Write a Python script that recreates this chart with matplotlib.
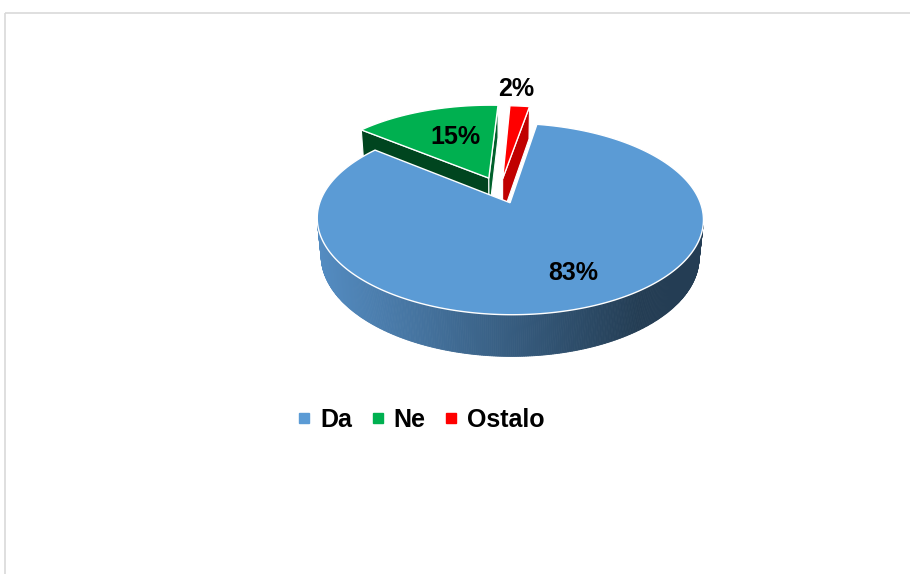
import numpy as np
import matplotlib
matplotlib.use('Agg')
import matplotlib.pyplot as plt
from matplotlib.patches import Polygon, Rectangle
from matplotlib.lines import Line2D

# data
labels = ['Da', 'Ne', 'Ostalo']
values = [83, 15, 2]
top_colors = ['#5B9BD5', '#00B050', '#FF0000']
side_colors = ['#2B4B69', '#00451F', '#C00000']
explode = [0.15, 0.15, 0.13]
label_r = [0.68, 0.6, 1.3]
label_nudge = [(11, 4), (7, 1), (-8, 1)]   # pixels

# 3d view settings (pixels)
first_angle = 10      # degrees, clockwise from the back
elev = np.radians(28.5)
cam_dist = 5.3
focal = 985
origin = (500, 190)
thick = 0.228

s_e, c_e = np.sin(elev), np.cos(elev)
cam = np.array([0, -cam_dist * c_e, cam_dist * s_e])


def project(X, Y, Z):
    depth = cam_dist + c_e * Y - s_e * Z
    px = origin[0] + focal * X / depth
    py = origin[1] - focal * (s_e * Y + c_e * Z) / depth
    return px, py


def facing(normal, point):
    return np.dot(normal, cam - point) > 0


fig = plt.figure(figsize=(9.1, 5.74), dpi=100)
ax = fig.add_axes([0, 0, 1, 1])
ax.set_xlim(0, 910)
ax.set_ylim(574, 0)
ax.axis('off')

# light grey chart frame
ax.add_patch(Rectangle((4.5, 12.5), 1000, 1000, fill=False, edgecolor='#d9d9d9', lw=1.2))

fracs = np.array(values) / sum(values)
starts = first_angle + 360 * np.concatenate([[0], np.cumsum(fracs)[:-1]])
ends = starts + 360 * fracs
mids = np.radians((starts + ends) / 2)

order = np.argsort(-np.cos(mids))  # far slices first
z = 2
for i in order:
    ox, oy = explode[i] * np.sin(mids[i]), explode[i] * np.cos(mids[i])
    a, b = np.radians(starts[i]), np.radians(ends[i])
    th = np.linspace(a, b, max(int(np.degrees(b - a)) * 2, 4))
    rx, ry = ox + np.sin(th), oy + np.cos(th)

    # radial faces
    for ang, nrm in [(a, np.array([-np.cos(a), np.sin(a), 0])),
                     (b, np.array([np.cos(b), -np.sin(b), 0]))]:
        mid_pt = np.array([ox + 0.5 * np.sin(ang), oy + 0.5 * np.cos(ang), -thick / 2])
        if facing(nrm, mid_pt):
            xs = [ox, ox + np.sin(ang), ox + np.sin(ang), ox]
            ys = [oy, oy + np.cos(ang), oy + np.cos(ang), oy]
            zs = [0, 0, -thick, -thick]
            px, py = project(np.array(xs), np.array(ys), np.array(zs))
            col = side_colors[i] if ang == a else matplotlib.colors.to_hex(
                0.75 * np.array(matplotlib.colors.to_rgb(side_colors[i])) +
                0.25 * np.array(matplotlib.colors.to_rgb(top_colors[i])))
            if i == 2:
                col = side_colors[i]
            ax.add_patch(Polygon(np.column_stack([px, py]), closed=True, facecolor=col,
                                 edgecolor='white', lw=0.8, zorder=z))
            z += 1

    # outer wall, only the part facing the camera
    light = np.array([0.33, 0.55, 0.76])
    dark = np.array([0.14, 0.24, 0.33])
    for k in range(len(th) - 1):
        t0, t1 = th[k], th[k + 1]
        tm = (t0 + t1) / 2
        pt = np.array([ox + np.sin(tm), oy + np.cos(tm), -thick / 2])
        if not facing(np.array([np.sin(tm), np.cos(tm), 0]), pt):
            continue
        xs = np.array([ox + np.sin(t0), ox + np.sin(t1), ox + np.sin(t1), ox + np.sin(t0)])
        ys = np.array([oy + np.cos(t0), oy + np.cos(t1), oy + np.cos(t1), oy + np.cos(t0)])
        zs = np.array([0, 0, -thick, -thick])
        px, py = project(xs, ys, zs)
        if i == 0:
            t = np.clip((px.mean() - 318) / 320, 0, 1)
            col = light * (1 - t) + dark * t
        else:
            col = side_colors[i]
        ax.add_patch(Polygon(np.column_stack([px, py]), closed=True, facecolor=col,
                             edgecolor=col, lw=0.6, zorder=z))
    z += 1

    # top face
    px, py = project(np.concatenate([[ox], rx]), np.concatenate([[oy], ry]), np.zeros(len(rx) + 1))
    ax.add_patch(Polygon(np.column_stack([px, py]), closed=True, facecolor=top_colors[i],
                         edgecolor='white', lw=1.0, zorder=z))
    z += 1

# data labels
for i in range(len(values)):
    ox, oy = explode[i] * np.sin(mids[i]), explode[i] * np.cos(mids[i])
    lx, ly = project(ox + label_r[i] * np.sin(mids[i]), oy + label_r[i] * np.cos(mids[i]), 0)
    ax.text(lx + label_nudge[i][0], ly + label_nudge[i][1], f'{values[i]}%',
            ha='center', va='center', fontsize=18, fontweight='bold',
            family='Liberation Sans', color='black', zorder=50)

handles = [Line2D([], [], marker='s', ls='', markersize=7, color=c) for c in top_colors]
ax.legend(handles, labels, loc='center', bbox_to_anchor=(422 / 910, 1 - 420 / 574),
          bbox_transform=fig.transFigure, ncol=3, frameon=False,
          prop=dict(family='Liberation Sans', weight='bold', size=18),
          handlelength=0.4, handletextpad=0.45, columnspacing=0.8)

fig.savefig('out.png', dpi=100)
